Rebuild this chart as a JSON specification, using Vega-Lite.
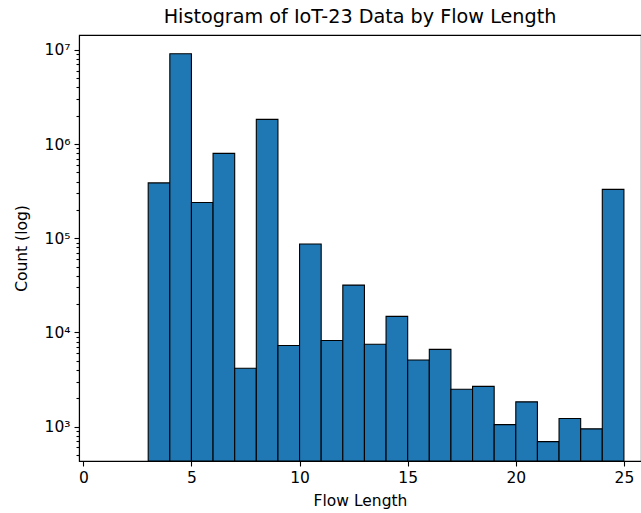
{
  "$schema": "https://vega.github.io/schema/vega-lite/v6.json",
  "width": 562,
  "height": 426,
  "autosize": "none",
  "padding": {"left": 79, "top": 35, "right": 0, "bottom": 52},
  "background": "white",
  "title": {"text": "Histogram of IoT-23 Data by Flow Length", "font": "DejaVu Sans", "fontSize": 19.2, "fontWeight": "normal", "color": "black", "offset": 8, "anchor": "middle"},
  "config": {
    "view": {"stroke": "black", "strokeWidth": 1.1},
    "axis": {"labelFont": "DejaVu Sans", "titleFont": "DejaVu Sans", "labelColor": "black", "titleColor": "black", "domainColor": "black", "tickColor": "black", "grid": false, "titleFontWeight": "normal", "labelFontSize": 15.5, "titleFontSize": 15.5, "domainWidth": 1.1, "tickWidth": 1.1}
  },
  "data": {"values": [
    {"bin_start": 3, "bin_end": 4, "count": 387000},
    {"bin_start": 4, "bin_end": 5, "count": 9100000},
    {"bin_start": 5, "bin_end": 6, "count": 240000},
    {"bin_start": 6, "bin_end": 7, "count": 796000},
    {"bin_start": 7, "bin_end": 8, "count": 4170},
    {"bin_start": 8, "bin_end": 9, "count": 1830000},
    {"bin_start": 9, "bin_end": 10, "count": 7270},
    {"bin_start": 10, "bin_end": 11, "count": 87000},
    {"bin_start": 11, "bin_end": 12, "count": 8200},
    {"bin_start": 12, "bin_end": 13, "count": 31800},
    {"bin_start": 13, "bin_end": 14, "count": 7500},
    {"bin_start": 14, "bin_end": 15, "count": 14800},
    {"bin_start": 15, "bin_end": 16, "count": 5100},
    {"bin_start": 16, "bin_end": 17, "count": 6600},
    {"bin_start": 17, "bin_end": 18, "count": 2490},
    {"bin_start": 18, "bin_end": 19, "count": 2670},
    {"bin_start": 19, "bin_end": 20, "count": 1050},
    {"bin_start": 20, "bin_end": 21, "count": 1830},
    {"bin_start": 21, "bin_end": 22, "count": 692},
    {"bin_start": 22, "bin_end": 23, "count": 1220},
    {"bin_start": 23, "bin_end": 24, "count": 946},
    {"bin_start": 24, "bin_end": 25, "count": 330000}
  ]},
  "mark": {"type": "bar", "fill": "#1f77b4", "stroke": "black", "strokeWidth": 1.1, "clip": true},
  "encoding": {
    "x": {
      "field": "bin_start", "type": "quantitative",
      "scale": {"domain": [-0.2, 25.79], "nice": false, "zero": false},
      "axis": {"values": [0, 5, 10, 15, 20, 25], "title": "Flow Length", "tickSize": 5, "labelPadding": 4, "titlePadding": 8, "labelFlush": false}
    },
    "x2": {"field": "bin_end"},
    "y": {
      "field": "count", "type": "quantitative",
      "scale": {"type": "log", "domain": [431, 14400000], "nice": false},
      "axis": {
        "values": [500, 600, 700, 800, 900, 1000, 2000, 3000, 4000, 5000, 6000, 7000, 8000, 9000, 10000, 20000, 30000, 40000, 50000, 60000, 70000, 80000, 90000, 100000, 200000, 300000, 400000, 500000, 600000, 700000, 800000, 900000, 1000000, 2000000, 3000000, 4000000, 5000000, 6000000, 7000000, 8000000, 9000000, 10000000],
        "labelExpr": "datum.value == 1000 ? '10³' : datum.value == 10000 ? '10⁴' : datum.value == 100000 ? '10⁵' : datum.value == 1000000 ? '10⁶' : datum.value == 10000000 ? '10⁷' : ''",
        "tickSize": {"condition": {"test": "indexof([1000, 10000, 100000, 1000000, 10000000], datum.value) >= 0", "value": 5}, "value": 3},
        "labelOverlap": false,
        "labelFlush": false,
        "labelPadding": 4,
        "title": "Count (log)",
        "titlePadding": 15
      }
    },
    "y2": {"datum": 431}
  }
}
